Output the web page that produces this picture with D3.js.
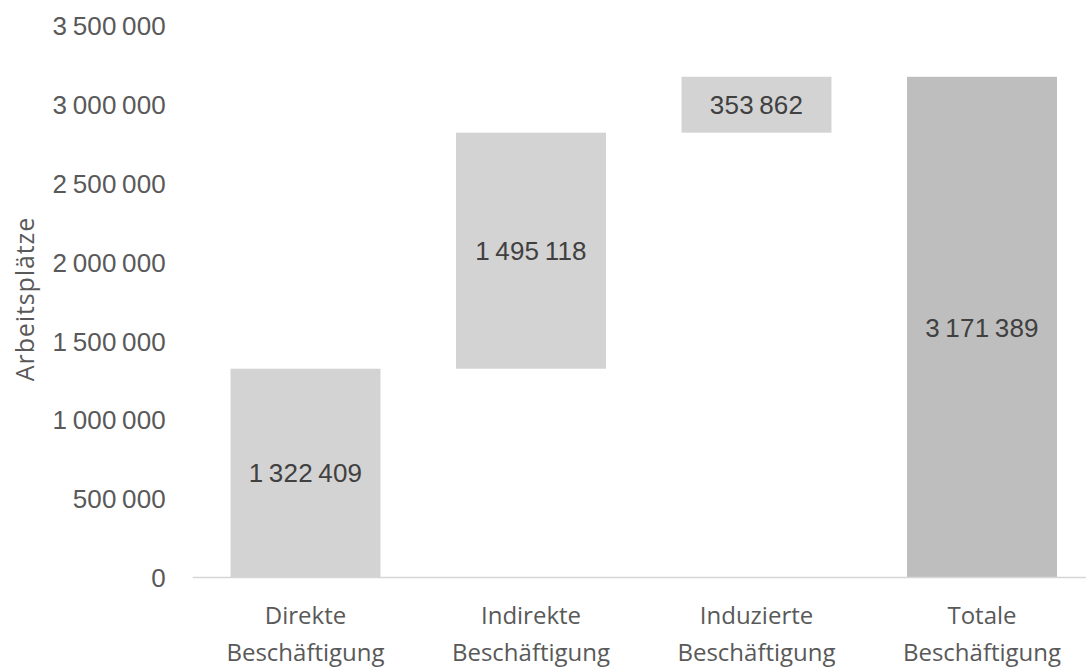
<!DOCTYPE html>
<html>
<head>
<meta charset="utf-8">
<script src="https://cdn.jsdelivr.net/npm/d3@7"></script>
<style>
  html, body { margin: 0; padding: 0; background: #ffffff; }
  svg { display: block; }
</style>
</head>
<body>
<svg id="chart" width="1086" height="667"></svg>
<script>
// Beschäftigungseffekte als Wasserfall: drei Teilbeiträge und die Summe
const categories = ["Direkte Beschäftigung", "Indirekte Beschäftigung", "Induzierte Beschäftigung", "Totale Beschäftigung"];
const values = [1322409, 1495118, 353862, 3171389];
const kinds = ["teil", "teil", "teil", "summe"];
const tickValues = [0, 500000, 1000000, 1500000, 2000000, 2500000, 3000000, 3500000];
const axisTitle = "Arbeitsplätze";

const width = 1086, height = 667;
const svg = d3.select("#chart");

const textColor = "#595959";
const numFont = "'Liberation Sans', Arial, sans-serif";
const catFont = "'Open Sans', sans-serif";

// Wasserfall-Segmente: Teile stapeln sich, die Summe startet bei null
let running = 0;
const segments = categories.map((c, i) => {
  let start, end;
  if (kinds[i] === "summe") { start = 0; end = values[i]; }
  else { start = running; end = running + values[i]; running = end; }
  return { category: c, value: values[i], kind: kinds[i], start, end };
});

const x = d3.scaleBand()
  .domain(categories)
  .range([192.75, 1094.75])
  .paddingInner(0.335)
  .paddingOuter(0.1675);

const y = d3.scaleLinear()
  .domain([0, 3500000])
  .range([577.5, 24.9]);

// Tausendertrennung mit schmalem Leerzeichen
const locale = d3.formatLocale({ decimal: ",", thousands: "\u2009", grouping: [3], currency: ["", " €"] });
const fmt = locale.format(",d");

// Y-Achsenbeschriftungen (ohne Linie und Gitter)
const yAxis = d3.axisLeft(y).tickValues(tickValues).tickFormat(fmt).tickSize(0).tickPadding(0);
const gy = svg.append("g").attr("transform", "translate(166,0)").call(yAxis);
gy.select(".domain").remove();
gy.selectAll("text")
  .attr("fill", textColor)
  .style("font-family", numFont)
  .style("font-size", "26px")
  .style("letter-spacing", "0.2px")
  .attr("dy", "0.36em");

// Balken
svg.append("g").selectAll("rect")
  .data(segments)
  .join("rect")
  .attr("x", d => x(d.category))
  .attr("width", x.bandwidth())
  .attr("y", d => y(d.end))
  .attr("height", d => y(d.start) - y(d.end))
  .attr("fill", d => d.kind === "summe" ? "#bebebe" : "#d3d3d3");

// Grundlinie
svg.append("line")
  .attr("x1", 192.75).attr("x2", width)
  .attr("y1", y(0)).attr("y2", y(0))
  .attr("stroke", "#d6d6d6")
  .attr("stroke-width", 1.5);

// Wertbeschriftungen in Balkenmitte
svg.append("g").selectAll("text")
  .data(segments)
  .join("text")
  .attr("x", d => x(d.category) + x.bandwidth() / 2)
  .attr("y", d => (y(d.start) + y(d.end)) / 2)
  .attr("dy", "0.36em")
  .attr("text-anchor", "middle")
  .attr("fill", "#404040")
  .style("font-family", numFont)
  .style("font-size", "26px")
  .style("letter-spacing", "0.2px")
  .text(d => fmt(d.value));

// Kategorienbeschriftungen, zweizeilig
const xAxis = d3.axisBottom(x).tickSize(0).tickPadding(0);
const gx = svg.append("g").attr("transform", `translate(0,${y(0)})`).call(xAxis);
gx.select(".domain").remove();
gx.selectAll(".tick text").each(function(d) {
  const t = d3.select(this);
  const words = d.split(" ");
  t.text(null)
    .attr("y", 0)
    .attr("dy", null)
    .attr("fill", textColor)
    .style("font-family", catFont)
    .style("font-size", "24px");
  words.forEach((w, i) => {
    t.append("tspan")
      .attr("x", 0)
      .attr("y", 46 + i * 37)
      .text(w);
  });
});

// Achsentitel
svg.append("text")
  .attr("transform", `translate(34,${299}) rotate(-90)`)
  .attr("text-anchor", "middle")
  .attr("fill", textColor)
  .style("font-family", catFont)
  .style("font-size", "25px")
  .style("letter-spacing", "0.9px")
  .text(axisTitle);
</script>
</body>
</html>
